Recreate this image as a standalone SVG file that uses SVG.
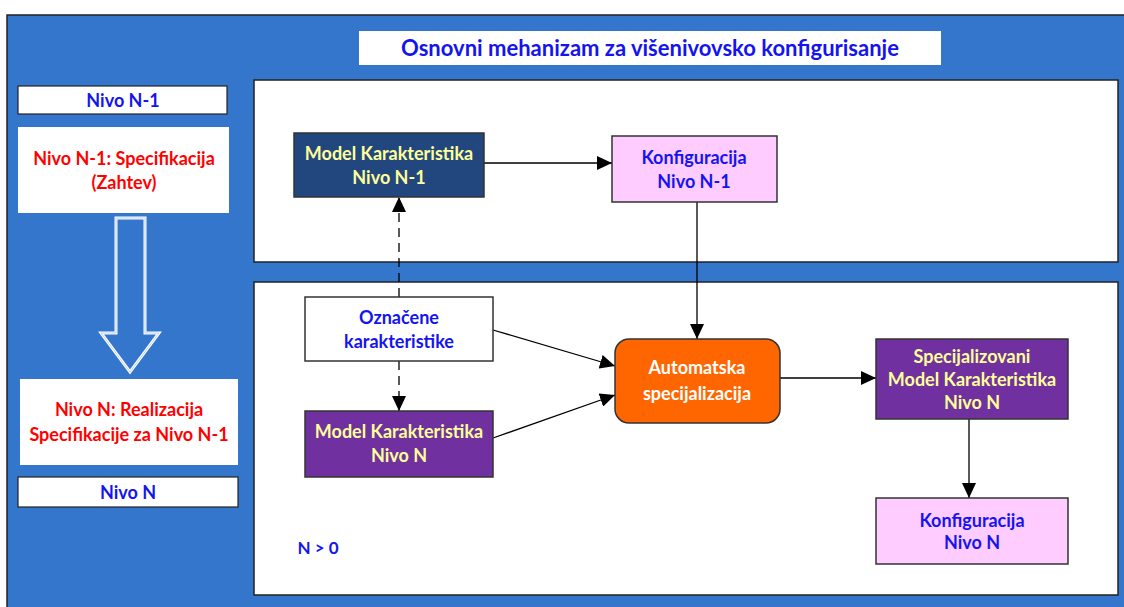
<svg xmlns="http://www.w3.org/2000/svg" width="1124" height="607" viewBox="0 0 1124 607">
<style>
text{font-family:Lato,"Open Sans","Liberation Sans",sans-serif;font-weight:bold;text-anchor:middle}
.t16{font-size:18px}
.blue{fill:#1414F0}
.red{fill:#FF0000}
.yel{fill:#FFFF99}
.wht{fill:#FFFFFF}
.box{stroke:#333;stroke-width:1.5}
.panel{fill:#fff;stroke:#222;stroke-width:1.5}
.conn{stroke:#000;stroke-width:1.3;fill:none}
</style>
<defs>
<marker id="ah" markerWidth="16" markerHeight="14" refX="15" refY="7" orient="auto" markerUnits="userSpaceOnUse">
<path d="M0,0 L15,7 L0,14 Z" fill="#000"/>
</marker>
</defs>
<rect x="7" y="15" width="1130" height="600" fill="#3476CC" stroke="#222" stroke-width="1.5"/>
<g id="title">
<rect x="359" y="31" width="582" height="34" fill="#fff"/>
<text x="650" y="56" style="font-size:22px" class="blue">Osnovni mehanizam za višenivovsko konfigurisanje</text>
</g>
<g id="panels">
<rect class="panel" x="254" y="80" width="864" height="182"/>
<rect class="panel" x="254" y="282" width="864" height="313"/>
</g>
<g id="left-nivo-n1">
<rect x="18" y="86" width="209" height="28" fill="#fff" stroke="#222" stroke-width="1.2"/>
<text x="123" y="107" class="t16 blue">Nivo N-1</text>
</g>
<g id="left-spec">
<rect x="18" y="127" width="211" height="86" fill="#fff"/>
<text x="124" y="165" class="t16 red">Nivo N-1: Specifikacija</text>
<text x="124" y="189" class="t16 red">(Zahtev)</text>
</g>
<g id="hollow-arrow">
<path d="M116,218 L145,218 L145,333 L159,333 L130,372 L101,333 L116,333 Z" fill="none" stroke="#fff" stroke-width="3"/>
<path d="M116,218 L145,218 L145,333 L159,333 L130,372 L101,333 L116,333 Z" fill="none" stroke="#a9c6ec" stroke-width="0.8"/>
</g>
<g id="left-real">
<rect x="20" y="379" width="218" height="86" fill="#fff"/>
<text x="129" y="416" class="t16 red">Nivo N: Realizacija</text>
<text x="129" y="441" class="t16 red">Specifikacije za Nivo N-1</text>
</g>
<g id="left-nivo-n">
<rect x="18" y="477" width="220" height="30" fill="#fff" stroke="#222" stroke-width="1.2"/>
<text x="128" y="499" class="t16 blue">Nivo N</text>
</g>
<g id="connectors">
<line class="conn" x1="484" y1="163" x2="612" y2="163" marker-end="url(#ah)"/>
<line class="conn" x1="399" y1="297" x2="399" y2="197" stroke-dasharray="9,6" marker-end="url(#ah)"/>
<line class="conn" x1="399" y1="361" x2="399" y2="411" stroke-dasharray="9,6" marker-end="url(#ah)"/>
<line class="conn" x1="697" y1="202" x2="697" y2="339" marker-end="url(#ah)"/>
<line class="conn" x1="493" y1="330" x2="615" y2="366" marker-end="url(#ah)"/>
<line class="conn" x1="493" y1="438" x2="615" y2="395" marker-end="url(#ah)"/>
<line class="conn" x1="780" y1="378" x2="876" y2="378" marker-end="url(#ah)"/>
<line class="conn" x1="969" y1="419" x2="969" y2="498" marker-end="url(#ah)"/>
</g>
<g id="mk-n1">
<rect class="box" x="294" y="133" width="190" height="64" fill="#22477E"/>
<text x="389" y="160" class="t16 yel">Model Karakteristika</text>
<text x="389" y="184" class="t16 yel">Nivo N-1</text>
</g>
<g id="konfig-n1">
<rect class="box" x="612" y="136" width="165" height="66" fill="#FFCCFF"/>
<text x="694" y="164" class="t16 blue">Konfiguracija</text>
<text x="694" y="188" class="t16 blue">Nivo N-1</text>
</g>
<g id="oznacene">
<rect class="box" x="305" y="297" width="188" height="64" fill="#fff"/>
<text x="399" y="324" class="t16 blue">Označene</text>
<text x="399" y="348" class="t16 blue">karakteristike</text>
</g>
<g id="mk-n">
<rect class="box" x="305" y="411" width="188" height="66" fill="#7030A0"/>
<text x="399" y="438" class="t16 yel">Model Karakteristika</text>
<text x="399" y="462" class="t16 yel">Nivo N</text>
</g>
<g id="automatska">
<rect class="box" x="615" y="339" width="165" height="84" rx="14" ry="14" fill="#FF6600"/>
<text x="697" y="374" class="t16 wht">Automatska</text>
<text x="697" y="400" class="t16 wht">specijalizacija</text>
</g>
<g id="spec-mk-n">
<rect class="box" x="876" y="339" width="192" height="80" fill="#7030A0"/>
<text x="972" y="363" class="t16 yel">Specijalizovani</text>
<text x="972" y="386" class="t16 yel">Model Karakteristika</text>
<text x="972" y="409" class="t16 yel">Nivo N</text>
</g>
<g id="konfig-n">
<rect class="box" x="876" y="498" width="192" height="66" fill="#FFCCFF"/>
<text x="972" y="527" class="t16 blue">Konfiguracija</text>
<text x="972" y="549" class="t16 blue">Nivo N</text>
</g>
<g id="n-label">
<text x="318" y="554" class="blue" style="font-size:17px">N &gt; 0</text>
</g>
</svg>
